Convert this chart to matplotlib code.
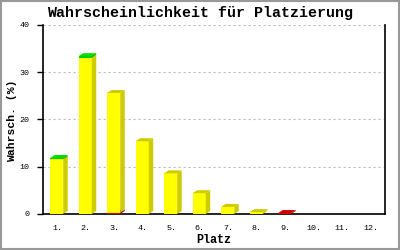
import matplotlib
matplotlib.use('Agg')
import matplotlib.pyplot as plt
from matplotlib.patches import Polygon, Rectangle

# data
places = ['1.', '2.', '3.', '4.', '5.', '6.', '7.', '8.', '9.', '10.', '11.', '12.']
red = [0, 0, 0.3, 0, 0, 0, 0, 0, 0.2, 0, 0, 0]
yellow = [11.6, 33.1, 25.3, 15.4, 8.6, 4.4, 1.5, 0.4, 0, 0, 0, 0]
green = [0.25, 0.3, 0, 0, 0, 0, 0, 0, 0, 0, 0, 0]

# (front, side, top) colours per series, stacked bottom to top
series = [
    (red, ('#dd0000', '#aa0000', '#cc0000')),
    (yellow, ('#ffff00', '#cccc00', '#cccc00')),
    (green, ('#00cc00', '#00aa00', '#00e000')),
]

MONO = 'Liberation Mono'

fig = plt.figure(figsize=(4, 2.5), dpi=100)
ax = fig.add_axes([43 / 400, 36 / 250, 342 / 400, 189 / 250])

x_min, x_max = 0.5, len(places) + 0.5
y_min, y_max = 0, 40
ax.set_xlim(x_min, x_max)
ax.set_ylim(y_min, y_max)

# depth of the fake 3d blocks, ~4.5px right / 3px up
ddx = 4.5 * (x_max - x_min) / 342
ddy = 3 * (y_max - y_min) / 189
width = 0.46

for i in range(len(places)):
    xc = i + 1
    x0 = xc - 0.25
    x1 = x0 + width
    base = 0
    for values, (c_front, c_side, c_top) in series:
        h = values[i]
        if h <= 0:
            continue
        y0, y1 = base, base + h
        ax.bar(x0, h, width=width, bottom=y0, align='edge', color=c_front,
               linewidth=0, zorder=3)
        ax.add_patch(Polygon([(x1, y0), (x1 + ddx, y0 + ddy), (x1 + ddx, y1 + ddy), (x1, y1)],
                             closed=True, facecolor=c_side, linewidth=0, zorder=3))
        ax.add_patch(Polygon([(x0, y1), (x1, y1), (x1 + ddx, y1 + ddy), (x0 + ddx, y1 + ddy)],
                             closed=True, facecolor=c_top, linewidth=0, zorder=3))
        base = y1

ax.set_xticks(range(1, len(places) + 1))
ax.set_xticklabels(places, family=MONO, fontsize=6)
ax.tick_params(axis='x', length=0, pad=8)
ax.set_yticks([0, 10, 20, 30, 40])
ax.set_yticklabels(['0', '10', '20', '30', '40'], family=MONO, fontsize=6)
ax.tick_params(axis='y', length=4.5, width=1, pad=5, direction='out')

ax.yaxis.grid(True, color='#bbbbbb', linestyle=(0, (2, 2.5)), linewidth=0.8, zorder=0)
ax.set_axisbelow(True)

ax.spines['top'].set_visible(False)
for s in ('left', 'bottom', 'right'):
    ax.spines[s].set_color('black')
    ax.spines[s].set_linewidth(1.2)

# axis titles placed by pixel position
fig.text(214 / 400, 1 - 240 / 250, 'Platz', family=MONO, fontweight='bold',
         fontsize=8.5, ha='center', va='center')
fig.text(12 / 400, 1 - 121 / 250, 'Wahrsch. (%)', family=MONO, fontweight='bold',
         fontsize=8.2, ha='center', va='center', rotation=90)

fig.text(0.5, 1 - 13 / 250, 'Wahrscheinlichkeit für Platzierung', family=MONO,
         fontweight='bold', fontsize=10.8, ha='center', va='center')

# grey frame around the whole picture
fig.patches.append(Rectangle((0.002, 0.003), 0.996, 0.994, transform=fig.transFigure,
                             fill=False, edgecolor='#999999', linewidth=1.5))

fig.savefig('out.png', dpi=100)
